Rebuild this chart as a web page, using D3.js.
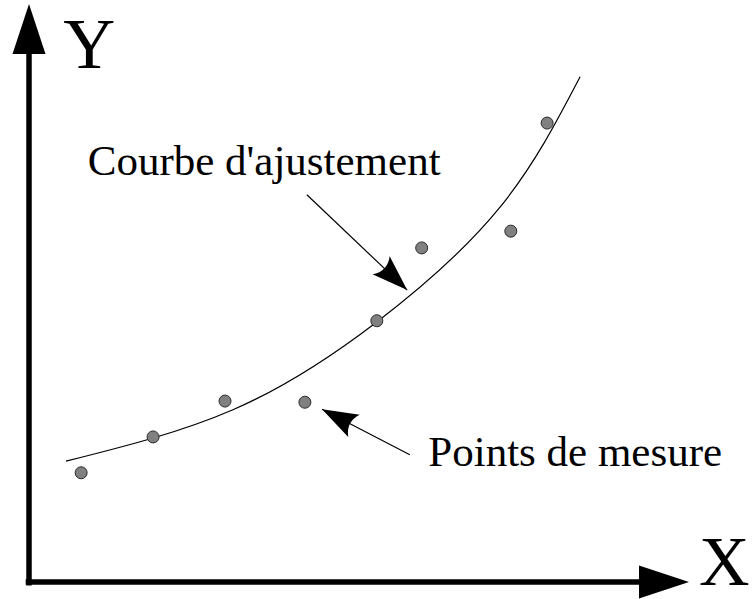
<!DOCTYPE html>
<html>
<head>
<meta charset="utf-8">
<script src="https://cdn.jsdelivr.net/npm/d3@7"></script>
<style>
    html, body { margin: 0; padding: 0; background: #fff; }
    svg { display: block; }
    text { font-family: "Liberation Serif", "Times New Roman", serif; fill: #000; }
</style>
</head>
<body>
<svg id="drawing_region"></svg>
<script>
// points de mesure (unités arbitraires 0-100)
const pointX = [7.9, 18.8, 29.7, 41.8, 52.7, 59.5, 73.0, 78.5];
const pointY = [18.9, 25.1, 31.3, 31.1, 45.2, 57.8, 60.7, 79.4];

// courbe d'ajustement
const curveX = [5.6, 30.9, 52.7, 71.4, 83.5];
const curveY = [20.9, 29.8, 45.0, 64.9, 87.4];

// annotations
const labels = ["Courbe d'ajustement", "Points de mesure"];
const axisLabels = ["X", "Y"];

const width = 752, height = 599;

const svg = d3.select('#drawing_region')
    .attr('width', width)
    .attr('height', height);

// échelles
const xscale = d3.scaleLinear().domain([0, 100]).range([29, 689]);
const yscale = d3.scaleLinear().domain([0, 100]).range([582, 4]);

// pointes de flèche
const defs = svg.append('defs');
defs.append('marker')
    .attr('id', 'head')
    .attr('markerUnits', 'userSpaceOnUse')
    .attr('viewBox', '-38 -14 40 28')
    .attr('markerWidth', 40)
    .attr('markerHeight', 28)
    .attr('refX', 0)
    .attr('refY', 0)
    .attr('orient', 'auto')
    .append('path')
    .attr('d', 'M0,0 L-36,-12.5 Q-27,0 -36,12.5 Z')
    .attr('fill', '#000');

// axes
const axisData = [
    {from: [0, -0.6], to: [0, 100], dir: 'y'},
    {from: [-0.5, 0], to: [100, 0], dir: 'x'}
];
const headLen = 50, headHalf = 16.5;

axisData.forEach(a => {
    const x0 = xscale(a.from[0]), y0 = yscale(a.from[1]);
    const x1 = xscale(a.to[0]), y1 = yscale(a.to[1]);
    if (a.dir === 'y') {
        svg.append('line')
            .attr('x1', x0).attr('y1', y0)
            .attr('x2', x1).attr('y2', y1 + headLen - 2)
            .attr('stroke', '#000').attr('stroke-width', 5.5);
        svg.append('path')
            .attr('d', `M${x1},${y1} L${x1 - headHalf},${y1 + headLen} L${x1 + headHalf},${y1 + headLen} Z`)
            .attr('fill', '#000');
    } else {
        svg.append('line')
            .attr('x1', x0).attr('y1', y0)
            .attr('x2', x1 - headLen + 2).attr('y2', y1)
            .attr('stroke', '#000').attr('stroke-width', 5.5);
        svg.append('path')
            .attr('d', `M${x1},${y1} L${x1 - headLen},${y1 - headHalf} L${x1 - headLen},${y1 + headHalf} Z`)
            .attr('fill', '#000');
    }
});

svg.append('text')
    .attr('x', xscale(101.5))
    .attr('y', yscale(-0.5))
    .attr('font-size', 70)
    .text(axisLabels[0]);

svg.append('text')
    .attr('x', xscale(5.2))
    .attr('y', yscale(88.9))
    .attr('font-size', 72)
    .text(axisLabels[1]);

// courbe
const curveData = curveX.map((x, i) => ({x: x, y: curveY[i]}));
const line = d3.line()
    .x(d => xscale(d.x))
    .y(d => yscale(d.y))
    .curve(d3.curveNatural);

svg.append('path')
    .attr('d', line(curveData))
    .attr('fill', 'none')
    .attr('stroke', '#000')
    .attr('stroke-width', 1.2);

// points
const pointData = pointX.map((x, i) => ({x: x, y: pointY[i]}));
svg.append('g')
    .selectAll('circle')
    .data(pointData)
    .enter()
    .append('circle')
    .attr('cx', d => xscale(d.x))
    .attr('cy', d => yscale(d.y))
    .attr('r', 6)
    .attr('fill', '#808080')
    .attr('stroke', '#2a2a2a')
    .attr('stroke-width', 1);

// flèches et textes d'annotation
const notes = [
    {text: labels[0], tx: 8.9, ty: 70.4, from: [42.1, 67.0], to: [57.3, 50.5]},
    {text: labels[1], tx: 60.5, ty: 20.1, from: [57.7, 22.0], to: [44.4, 29.9]}
];

notes.forEach(n => {
    svg.append('line')
        .attr('x1', xscale(n.from[0])).attr('y1', yscale(n.from[1]))
        .attr('x2', xscale(n.to[0])).attr('y2', yscale(n.to[1]))
        .attr('stroke', '#000')
        .attr('stroke-width', 1.2)
        .attr('marker-end', 'url(#head)');
    svg.append('text')
        .attr('x', xscale(n.tx))
        .attr('y', yscale(n.ty))
        .attr('font-size', 43)
        .text(n.text);
});
</script>
</body>
</html>
